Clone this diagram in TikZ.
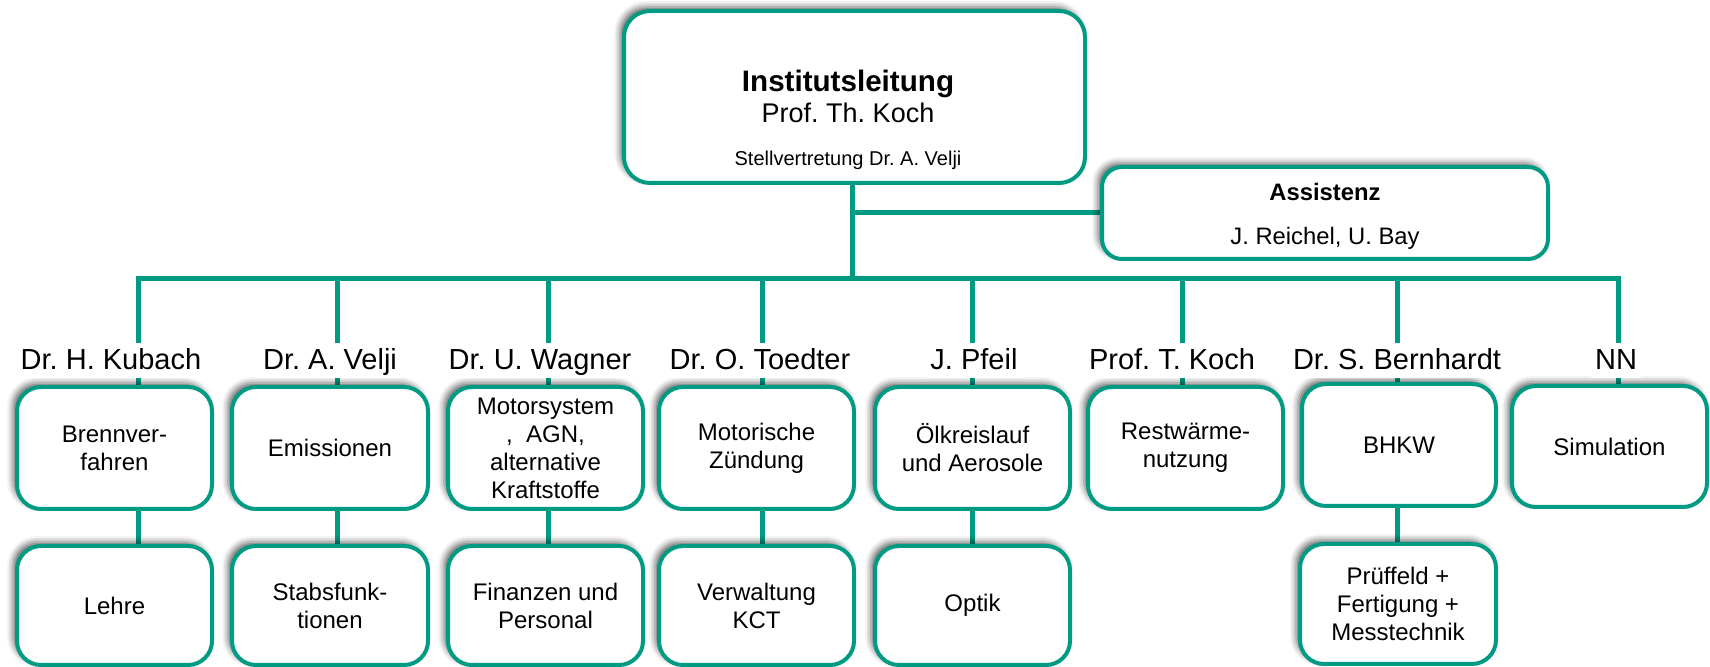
\documentclass[tikz,border=0pt]{standalone}
\usepackage{fontspec}
\setmainfont{Liberation Sans}
\usetikzlibrary{shadows.blur}
\definecolor{orgteal}{RGB}{0,155,130}
\pgfdeclarelayer{bg}
\pgfsetlayers{bg,main}
\frenchspacing
\newcommand\orgbox[6]{\node[box, minimum width={(#4-#2)*0.5pt}, minimum height={(#5-#3)*0.5pt}] (#1) at ({(#2+#4)/2},{(#3+#5)/2}) {#6};}
\begin{document}
\begin{tikzpicture}[x=0.5pt,y=-0.5pt,
  box/.style={draw=orgteal, line width=2pt, rounded corners=12pt, fill=white, align=center,
    font=\fontsize{12}{14}\selectfont, inner sep=0pt,
    blur shadow={shadow xshift=-2pt, shadow yshift=2pt, shadow blur radius=3pt, shadow opacity=60}},
  conn/.style={draw=orgteal, line width=2.5pt},
  head/.style={fill=white, inner xsep=2pt, inner ysep=0pt, text height=13.5pt, text depth=4pt,
    anchor=base, font=\fontsize{14.5}{16}\selectfont},
  txt/.style={anchor=base, inner sep=0pt},
]
\useasboundingbox (0,0) rectangle (1710,667);

% top box
\node[box, rounded corners=13pt, minimum width={(1085-624)*0.5pt}, minimum height={(183-11)*0.5pt}] (top) at (854.5,97) {};
\node[txt, font=\bfseries\fontsize{14.8}{16}\selectfont] (tl1) at (848,92) {Institutsleitung};
\node[txt, font=\fontsize{13.5}{15}\selectfont] (tl2) at (848,123) {Prof. Th. Koch};
\node[txt, font=\fontsize{10}{12}\selectfont] (tl3) at (848,166) {Stellvertretung Dr. A. Velji};

% assistenz
\node[box, rounded corners=10pt, minimum width={(1548-1102)*0.5pt}, minimum height={(259-167)*0.5pt}] (asst) at (1325,213) {};
\node[txt, font=\bfseries\fontsize{11.9}{14}\selectfont] (as1) at (1325,201) {Assistenz};
\node[txt, font=\fontsize{11.9}{14}\selectfont] (as2) at (1325,245) {J. Reichel, U. Bay};

% upper boxes
\orgbox{u1}{17}{387}{212}{509}{Brennver-\\fahren}
\orgbox{u2}{232}{387}{428}{509}{Emissionen}
\orgbox{u3}{448}{387}{643}{509}{Motorsystem\\{,}\ \ AGN,\\alternative\\Kraftstoffe}
\orgbox{u4}{659}{387}{854}{509}{Motorische\\Zündung}
\orgbox{u5}{875}{387}{1070}{509}{Ölkreislauf\\und Aerosole}
\orgbox{u6}{1088}{387}{1283}{509}{Restwärme-\\nutzung}
\orgbox{u7}{1302}{384}{1496}{506}{BHKW}
\orgbox{u8}{1512}{386}{1707}{507}{Simulation}

% lower boxes
\orgbox{l1}{17}{546}{212}{665}{Lehre}
\orgbox{l2}{232}{546}{428}{665}{Stabsfunk-\\tionen}
\orgbox{l3}{448}{546}{643}{665}{Finanzen und\\Personal}
\orgbox{l4}{659}{546}{854}{665}{Verwaltung\\KCT}
\orgbox{l5}{875}{546}{1070}{665}{Optik}
\orgbox{l7}{1300}{544}{1496}{664}{Prüffeld +\\Fertigung +\\Messtechnik}

% heads
\node[head] (h1) at (111,370) {Dr. H. Kubach};
\node[head] (h2) at (330,370) {Dr. A. Velji};
\node[head] (h3) at (540,370) {Dr. U. Wagner};
\node[head] (h4) at (760,370) {Dr. O. Toedter};
\node[head] (h5) at (974,370) {J. Pfeil};
\node[head] (h6) at (1172,370) {Prof. T. Koch};
\node[head] (h7) at (1397,370) {Dr. S. Bernhardt};
\node[head] (h8) at (1616,370) {NN};

% connectors
\coordinate (tr) at (852,279);
\coordinate (b1) at (138,279);
\coordinate (b2) at (337,279);
\coordinate (b3) at (548,279);
\coordinate (b4) at (762,279);
\coordinate (b5) at (972,279);
\coordinate (b6) at (1182,279);
\coordinate (b7) at (1397,279);
\coordinate (b8) at (1618,279);
\begin{pgfonlayer}{bg}
\draw[conn] (top.south -| tr) -- (tr);
\draw[conn] (tr |- asst.west) -- (asst.west);
\draw[conn] (b1 |- u1.north) -- (b1) -- (b8) -- (b8 |- u8.north);
\foreach \i in {2,...,7} {\draw[conn] (b\i) -- (b\i |- u\i.north);}
\foreach \i in {1,2,3,4,5,7} {\draw[conn] (b\i |- u\i.south) -- (b\i |- l\i.north);}
\end{pgfonlayer}
\end{tikzpicture}
\end{document}
